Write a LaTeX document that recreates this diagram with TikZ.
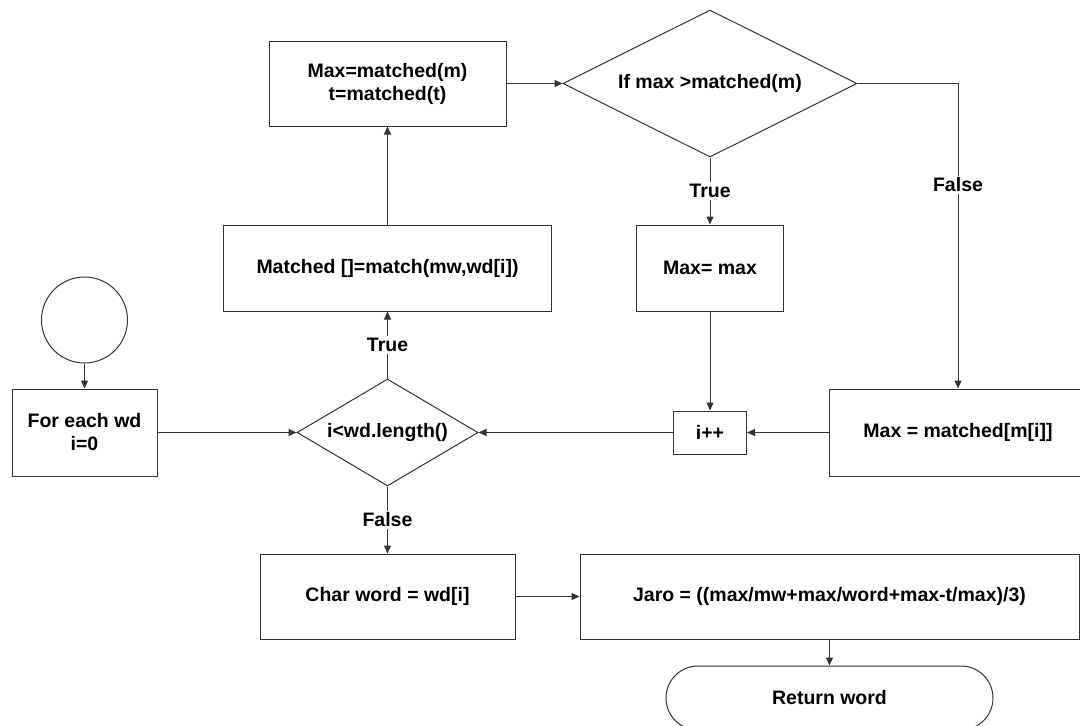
\documentclass[tikz,border=0pt]{standalone}
\usepackage{fontspec}
\setmainfont{Liberation Sans}
\usetikzlibrary{arrows.meta,shapes.geometric,shapes.misc}

\definecolor{lc}{gray}{0.2}

\begin{document}
\begin{tikzpicture}[x=1pt,y=-1pt,
  every node/.style={font=\bfseries\fontsize{19.5}{23}\selectfont, align=center, inner sep=0pt, text=black},
  box/.style={draw=lc, line width=1pt, rectangle},
  decision/.style={draw=lc, line width=1pt, diamond, shape aspect=1.7},
  terminal/.style={draw=lc, line width=1pt, rounded rectangle},
  startnode/.style={draw=lc, line width=1pt, circle},
  flow/.style={draw=lc, line width=1pt, -{Triangle[length=8pt,width=7pt]}},
  lbl/.style={fill=white, inner sep=2pt}]

\useasboundingbox (0,0) rectangle (1080,726);
\clip (0,0) rectangle (1080,726);

% shapes
\node[startnode, minimum size=86pt] (st) at (84.5,320) {};
\node[box, minimum width=145pt, minimum height=87pt] (fe) at (84.5,432.5) {For each wd\\i=0};
\node[decision, minimum width=181pt, minimum height=107pt] (d1) at (387.5,432.5) {};
\node (d1t) at (d1.center) {i<wd.length()};
\node[box, minimum width=328pt, minimum height=86pt] (mt) at (387.5,268) {Matched []=match(mw,wd[i])};
\node[box, minimum width=237pt, minimum height=85pt] (mx) at (387.5,83.5) {Max=matched(m)\\t=matched(t)};
\node[decision, minimum width=294pt, minimum height=147pt] (d2) at (710,83.5) {};
\node (d2t) at (d2.center) {If max >matched(m)};
\node[box, minimum width=147pt, minimum height=86pt] (mm) at (710,268) {Max= max};
\node[box, minimum width=73pt, minimum height=43pt] (ip) at (710,432.5) {i++};
\node[box, minimum width=258pt, minimum height=87pt] (mi) at (958,432.5) {Max = matched[m[i]]};
\node[box, minimum width=255pt, minimum height=85pt] (ch) at (387.5,596.5) {Char word = wd[i]};
\node[box, minimum width=499pt, minimum height=85pt] (jr) at (829.5,596.5) {Jaro = ((max/mw+max/word+max-t/max)/3)};
\node[terminal, minimum width=327pt, minimum height=64pt] (rt) at (829.5,698) {Return word};

% connectors
\draw[flow] (st.south) -- (fe.north);
\draw[flow] (fe.east) -- (d1.west);
\draw[flow] (d1.north) -- node[lbl] {True} (mt.south);
\draw[flow] (mt.north) -- (mx.south);
\draw[flow] (mx.east) -- (d2.west);
\draw[flow] (d2.south) -- node[lbl] {True} (mm.north);
\draw[flow] (d2.east) -| node[lbl, pos=0.666] {False} (mi.north);
\draw[flow] (mm.south) -- (ip.north);
\draw[flow] (mi.west) -- (ip.east);
\draw[flow] (ip.west) -- (d1.east);
\draw[flow] (d1.south) -- node[lbl] {False} (ch.north);
\draw[flow] (ch.east) -- (jr.west);
\draw[flow] (jr.south) -- (rt.north);
\end{tikzpicture}
\end{document}
